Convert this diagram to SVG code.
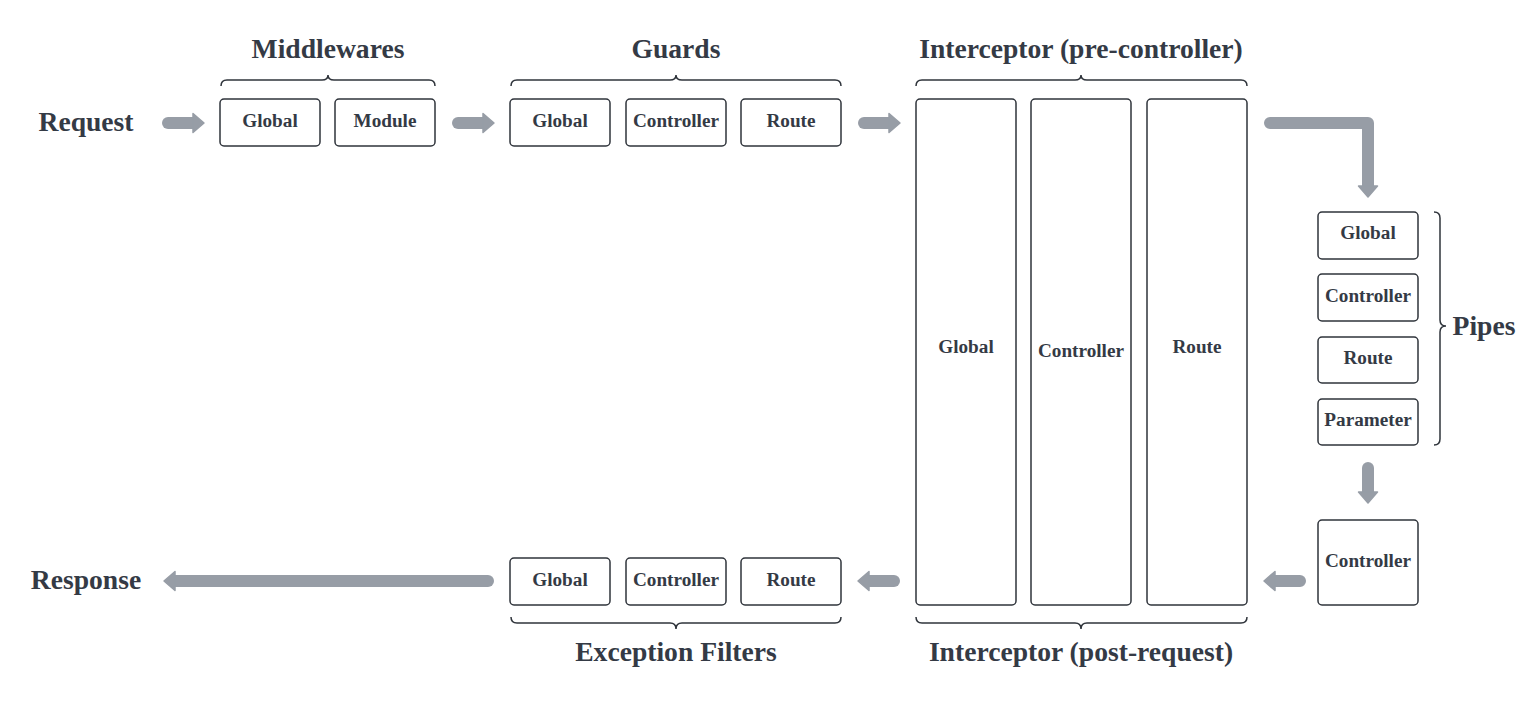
<svg xmlns="http://www.w3.org/2000/svg" width="1540" height="706" viewBox="0 0 1540 706">
<style>
.bx{fill:#fff;stroke:#2f343b;stroke-width:1.5}
.lb{font-family:"Liberation Serif",serif;font-weight:bold;font-size:19.2px;fill:#343a45;text-anchor:middle}
.tt{font-family:"Liberation Serif",serif;font-weight:bold;font-size:27.6px;fill:#343a45;text-anchor:middle}
.br{fill:none;stroke:#2f343b;stroke-width:1.5}
.ar{fill:none;stroke:#979da6;stroke-width:12;stroke-linecap:round;stroke-linejoin:round;marker-end:url(#ah)}
</style>
<defs>
<marker id="ah" markerUnits="userSpaceOnUse" viewBox="-1 -11 14 22" markerWidth="14" markerHeight="22" refX="1" refY="0" orient="auto">
<path d="M0,-9.5 L11,0 L0,9.5 Z" fill="#979da6" stroke="#979da6" stroke-width="1.5" stroke-linejoin="round"/>
</marker>
</defs>
<rect width="1540" height="706" fill="#fff"/>
<g id="labels">
<text class="tt" x="86" y="131">Request</text>
<text class="tt" x="86" y="589">Response</text>
<text class="tt" x="328" y="58">Middlewares</text>
<text class="tt" x="676" y="58">Guards</text>
<text class="tt" x="1081" y="58">Interceptor (pre-controller)</text>
<text class="tt" x="676" y="661">Exception Filters</text>
<text class="tt" x="1081" y="661">Interceptor (post-request)</text>
<text class="tt" x="1484" y="335">Pipes</text>
</g>
<g id="braces">
<path class="br" d="M221,86 Q221,80 227,80 L322,80 Q328,80 328,75 Q328,80 334,80 L429,80 Q435,80 435,86"/>
<path class="br" d="M511,86 Q511,80 517,80 L670,80 Q676,80 676,75 Q676,80 682,80 L835,80 Q841,80 841,86"/>
<path class="br" d="M916,86 Q916,80 922,80 L1075,80 Q1081,80 1081,75 Q1081,80 1087,80 L1241,80 Q1247,80 1247,86"/>
<path class="br" d="M511,617 Q511,623 517,623 L670,623 Q676,623 676,629 Q676,623 682,623 L835,623 Q841,623 841,617"/>
<path class="br" d="M916,617 Q916,623 922,623 L1075,623 Q1081,623 1081,629 Q1081,623 1087,623 L1241,623 Q1247,623 1247,617"/>
<path class="br" d="M1434,212 Q1440,212 1440,218 L1440,320 Q1440,326 1446,326 Q1440,326 1440,332 L1440,439 Q1440,445 1434,445"/>
</g>
<g id="mw-global"><rect class="bx" x="220" y="99" width="100" height="47" rx="4"/><text class="lb" x="270" y="127">Global</text></g>
<g id="mw-module"><rect class="bx" x="335" y="99" width="100" height="47" rx="4"/><text class="lb" x="385" y="127">Module</text></g>
<g id="gd-global"><rect class="bx" x="510" y="99" width="100" height="47" rx="4"/><text class="lb" x="560" y="127">Global</text></g>
<g id="gd-controller"><rect class="bx" x="626" y="99" width="100" height="47" rx="4"/><text class="lb" x="676" y="127">Controller</text></g>
<g id="gd-route"><rect class="bx" x="741" y="99" width="100" height="47" rx="4"/><text class="lb" x="791" y="127">Route</text></g>
<g id="ic-global"><rect class="bx" x="916" y="99" width="100" height="506" rx="4"/><text class="lb" x="966" y="353">Global</text></g>
<g id="ic-controller"><rect class="bx" x="1031" y="99" width="100" height="506" rx="4"/><text class="lb" x="1081" y="357">Controller</text></g>
<g id="ic-route"><rect class="bx" x="1147" y="99" width="100" height="506" rx="4"/><text class="lb" x="1197" y="353">Route</text></g>
<g id="pp-global"><rect class="bx" x="1318" y="212" width="100" height="47" rx="4"/><text class="lb" x="1368" y="239">Global</text></g>
<g id="pp-controller"><rect class="bx" x="1318" y="274" width="100" height="47" rx="4"/><text class="lb" x="1368" y="302">Controller</text></g>
<g id="pp-route"><rect class="bx" x="1318" y="337" width="100" height="46" rx="4"/><text class="lb" x="1368" y="364">Route</text></g>
<g id="pp-parameter"><rect class="bx" x="1318" y="399" width="100" height="46" rx="4"/><text class="lb" x="1368" y="426">Parameter</text></g>
<g id="controller"><rect class="bx" x="1318" y="520" width="100" height="85" rx="4"/><text class="lb" x="1368" y="567">Controller</text></g>
<g id="ef-global"><rect class="bx" x="510" y="558" width="100" height="47" rx="4"/><text class="lb" x="560" y="586">Global</text></g>
<g id="ef-controller"><rect class="bx" x="626" y="558" width="100" height="47" rx="4"/><text class="lb" x="676" y="586">Controller</text></g>
<g id="ef-route"><rect class="bx" x="741" y="558" width="100" height="47" rx="4"/><text class="lb" x="791" y="586">Route</text></g>
<g id="connectors">
<path class="ar" d="M168,123 L194,123"/>
<path class="ar" d="M458,123 L484,123"/>
<path class="ar" d="M864,123 L890,123"/>
<path class="ar" d="M1270,123 L1368,123 L1368,187"/>
<path class="ar" d="M1368,468 L1368,493"/>
<path class="ar" d="M1300,581 L1274,581"/>
<path class="ar" d="M894,581 L868,581"/>
<path class="ar" d="M488,581 L174,581"/>
</g>
</svg>
